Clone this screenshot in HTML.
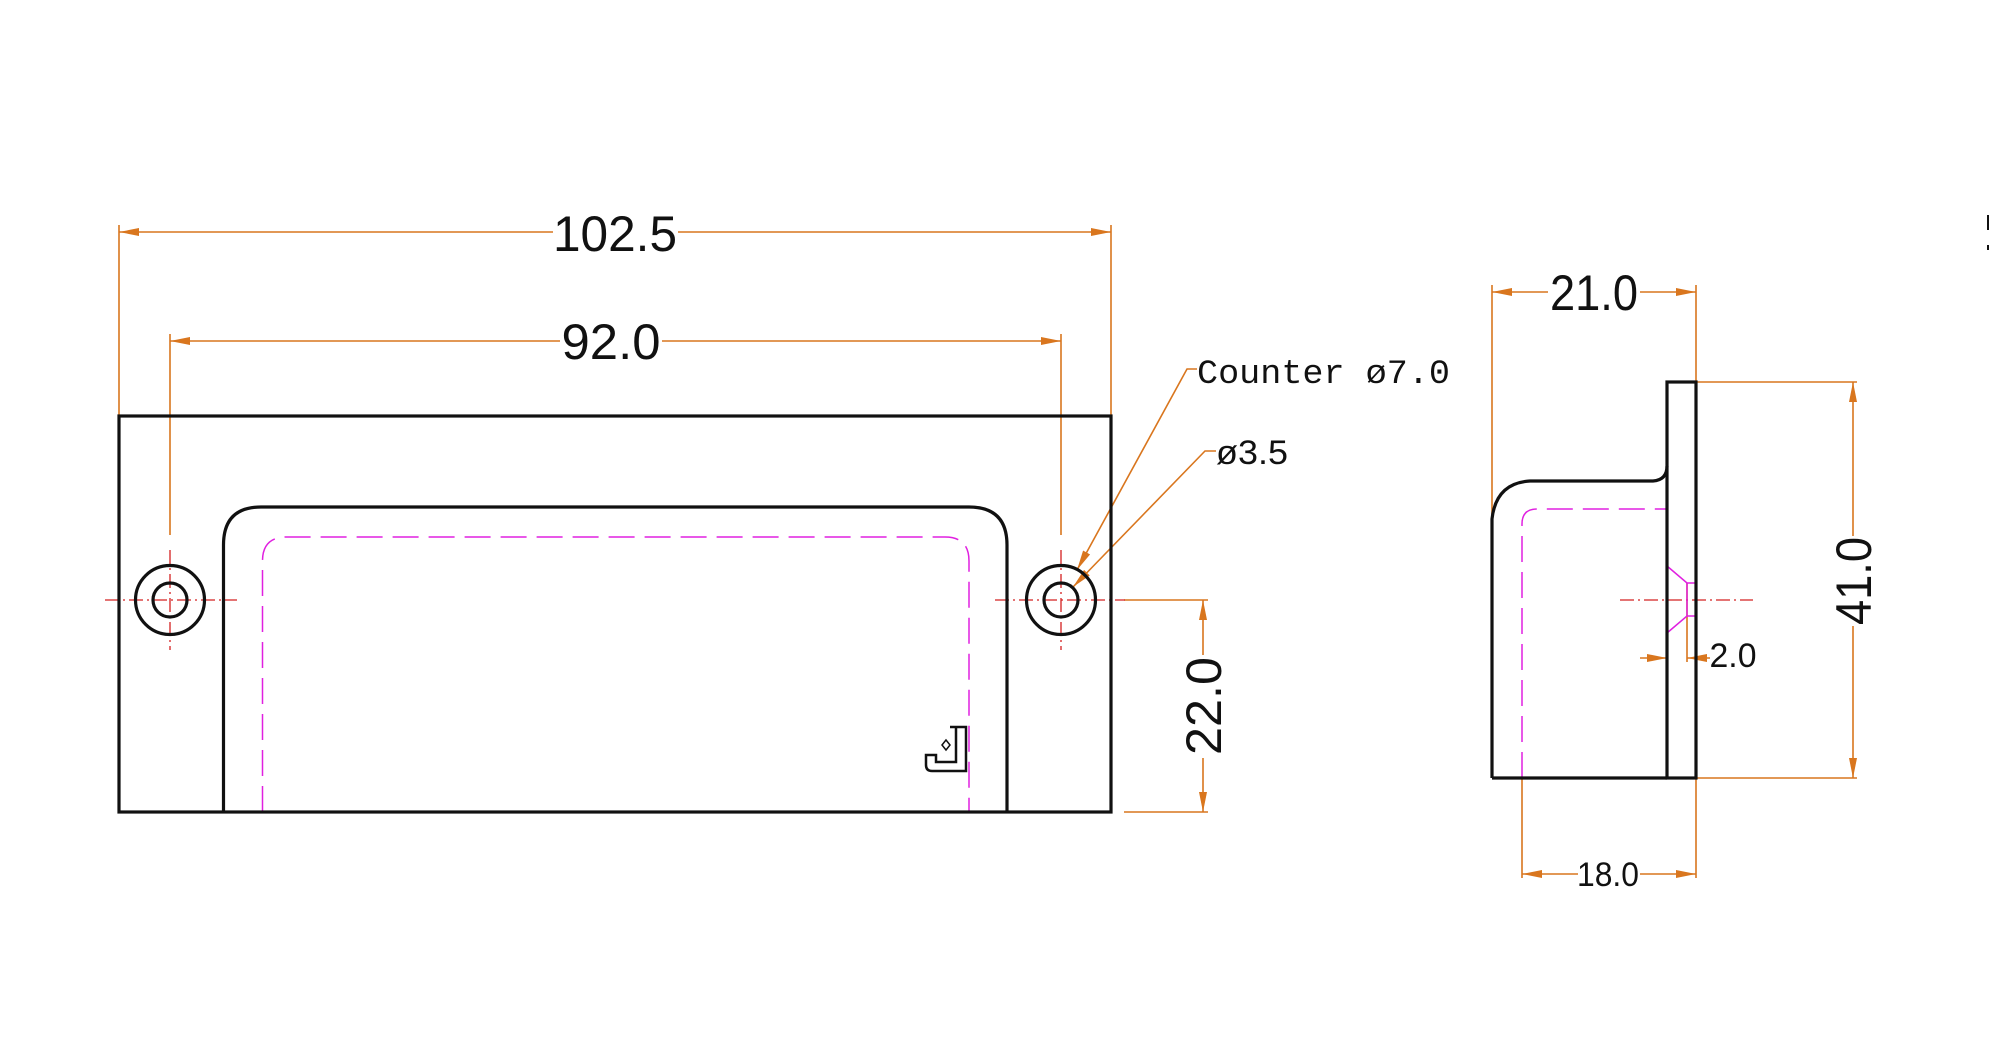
<!DOCTYPE html>
<html><head><meta charset="utf-8"><style>
html,body{margin:0;padding:0;background:#fff;width:1992px;height:1064px;overflow:hidden}
svg{display:block}
text{font-family:"Liberation Sans",sans-serif;fill:#111}
</style></head><body>
<svg width="1992" height="1064" viewBox="0 0 1992 1064" xmlns="http://www.w3.org/2000/svg">
<defs>
<marker id="a" viewBox="0 0 20 8" refX="20" refY="4" markerWidth="20" markerHeight="8" markerUnits="userSpaceOnUse" orient="auto-start-reverse"><path d="M0,0 L20,4 L0,8 z" fill="#d9761e"/></marker>
</defs>
<g stroke="#d9761e" stroke-width="1.6" fill="none">
<line x1="119" y1="225" x2="119" y2="416"/><line x1="1111" y1="225" x2="1111" y2="416"/>
<line x1="119" y1="232" x2="553" y2="232" marker-start="url(#a)"/><line x1="678" y1="232" x2="1111" y2="232" marker-end="url(#a)"/>
<line x1="170" y1="334" x2="170" y2="535"/><line x1="1061" y1="334" x2="1061" y2="535"/>
<line x1="170" y1="341" x2="560" y2="341" marker-start="url(#a)"/><line x1="662" y1="341" x2="1061" y2="341" marker-end="url(#a)"/>
<line x1="1124" y1="600" x2="1208" y2="600"/><line x1="1124" y1="812" x2="1208" y2="812"/>
<line x1="1203" y1="600" x2="1203" y2="655" marker-start="url(#a)"/><line x1="1203" y1="758" x2="1203" y2="812" marker-end="url(#a)"/>
<polyline points="1197,369 1187,369 1077,570" marker-end="url(#a)"/>
<polyline points="1216,451 1205,451 1073,587" marker-end="url(#a)"/>
<line x1="1492" y1="285" x2="1492" y2="519"/><line x1="1696" y1="285" x2="1696" y2="382"/>
<line x1="1492" y1="292" x2="1548" y2="292" marker-start="url(#a)"/><line x1="1640" y1="292" x2="1696" y2="292" marker-end="url(#a)"/>
<line x1="1696" y1="382" x2="1857" y2="382"/><line x1="1696" y1="778" x2="1857" y2="778"/>
<line x1="1853" y1="382" x2="1853" y2="536" marker-start="url(#a)"/><line x1="1853" y1="626" x2="1853" y2="778" marker-end="url(#a)"/>
<line x1="1522" y1="778" x2="1522" y2="878"/><line x1="1696" y1="778" x2="1696" y2="878"/>
<line x1="1522" y1="874" x2="1578" y2="874" marker-start="url(#a)"/><line x1="1640" y1="874" x2="1696" y2="874" marker-end="url(#a)"/>
<line x1="1687" y1="583" x2="1687" y2="662"/>
<line x1="1640" y1="658" x2="1667" y2="658" marker-end="url(#a)"/>
<line x1="1710" y1="658" x2="1687" y2="658" marker-end="url(#a)"/>
</g>
<g stroke="#d42020" stroke-width="1.3" stroke-dasharray="14,4,2,4" fill="none">
<line x1="105" y1="600" x2="237" y2="600"/><line x1="170" y1="550" x2="170" y2="650"/>
<line x1="995" y1="600" x2="1125" y2="600"/><line x1="1061" y1="550" x2="1061" y2="650"/>
<line x1="1620" y1="600" x2="1753" y2="600"/>
</g>
<g stroke="#e020e0" stroke-width="1.5" fill="none">
<path d="M262.5,812 V561 Q262.5,537 286.5,537 H945 Q969,537 969,561 V812" stroke-dasharray="26,10"/>
<path d="M1522,778 V524 Q1522,509 1537,509 H1667" stroke-dasharray="26,10"/>
<polyline points="1667,566 1687,583 1696,583"/>
<polyline points="1667,633 1687,616 1696,616"/>
<line x1="1687" y1="583" x2="1687" y2="616"/>
</g>
<g stroke="#111" stroke-width="3.2" fill="none">
<rect x="119" y="416" width="992" height="396"/>
<path d="M223.5,812 V545 Q223.5,507 261,507 H969 Q1007,507 1007,545 V812"/>
<circle cx="170" cy="600" r="34.5"/><circle cx="170" cy="600" r="17"/>
<circle cx="1061" cy="600" r="34.5"/><circle cx="1061" cy="600" r="17"/>
<rect x="1667" y="382" width="29" height="396"/>
<path d="M1492,778 V519 Q1496,483 1530,481 H1653 Q1667,480 1667,466"/>
<line x1="1492" y1="778" x2="1667" y2="778"/>
<path d="M950,727 H966 V771 H932 Q926,771 926,765 V755 H936 V762 H956 V727" stroke-width="2.5"/>
</g>
<path d="M942,745 l4,-5 l4,5 l-4,5 z" fill="none" stroke="#111" stroke-width="1.5"/>
<line x1="1988" y1="215" x2="1988" y2="230" stroke="#111" stroke-width="2"/>
<line x1="1988" y1="245" x2="1988" y2="250" stroke="#111" stroke-width="2"/>
<text x="615" y="251" font-size="50" text-anchor="middle" textLength="124" lengthAdjust="spacingAndGlyphs">102.5</text>
<text x="611" y="359" font-size="50" text-anchor="middle" textLength="99" lengthAdjust="spacingAndGlyphs">92.0</text>
<text x="1594" y="310" font-size="50" text-anchor="middle" textLength="88" lengthAdjust="spacingAndGlyphs">21.0</text>
<text x="1733" y="667" font-size="34" text-anchor="middle" textLength="47" lengthAdjust="spacingAndGlyphs">2.0</text>
<text x="1608" y="886" font-size="34" text-anchor="middle" textLength="62" lengthAdjust="spacingAndGlyphs">18.0</text>
<text transform="translate(1221,706) rotate(-90)" font-size="50" text-anchor="middle" textLength="98" lengthAdjust="spacingAndGlyphs">22.0</text>
<text transform="translate(1871,581) rotate(-90)" font-size="50" text-anchor="middle" textLength="88" lengthAdjust="spacingAndGlyphs">41.0</text>
<text x="1197" y="383" font-size="34" textLength="253" lengthAdjust="spacingAndGlyphs" style="font-family:'Liberation Mono',monospace">Counter ø7.0</text>
<text x="1216" y="464" font-size="34" textLength="72" lengthAdjust="spacingAndGlyphs">ø3.5</text>
</svg>
</body></html>
